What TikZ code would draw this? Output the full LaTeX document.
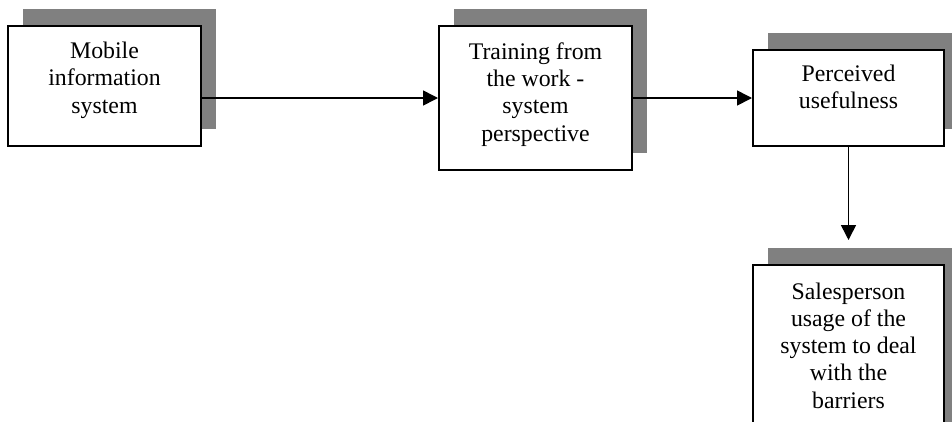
\documentclass[tikz,border=0pt]{standalone}
\usepackage{fontspec}
\setmainfont{Liberation Serif}
\usetikzlibrary{arrows.meta,calc}
\definecolor{shadowgray}{RGB}{128,128,128}
\tikzset{
  box/.style={draw=black, line width=2pt, fill=white, rectangle, inner sep=0pt, anchor=north west},
  boxshadow/.style={fill=shadowgray, draw=none},
  boxtext/.style={inner sep=0pt, align=center, anchor=north,
    font=\fontsize{23.8}{27.2}\selectfont},
  flow/.style={line width=1.6pt, -{Triangle[length=15pt,width=15pt]}}
}
\begin{document}
\begin{tikzpicture}[x=1pt,y=1pt]
\useasboundingbox (0,0) rectangle (952,-429);
\begin{scope}
  \clip (0,0) rectangle (952,-421);
  % drop shadows, offset up and to the right
  \fill[boxshadow] (23,-9) rectangle (216,-129);
  \fill[boxshadow] (454,-9) rectangle (647,-153);
  \fill[boxshadow] (768,-33) rectangle (959,-129);
  \fill[boxshadow] (768,-248) rectangle (959,-460);
  % boxes
  \node[box, minimum width=193pt, minimum height=120pt] (b1) at (7,-25) {};
  \node[box, minimum width=193pt, minimum height=144pt] (b2) at (438,-25) {};
  \node[box, minimum width=191pt, minimum height=96pt] (b3) at (752,-49) {};
  \node[box, minimum width=191pt, minimum height=196pt] (b4) at (752,-264) {};
\end{scope}
% labels
\node[boxtext] (t1) at ([yshift=-17pt]b1.north) {Mobile\\information\\system};
\node[boxtext] (t2) at ([yshift=-17.5pt]b2.north) {Training from\\the work -\\system\\perspective};
\node[boxtext] (t3) at ([yshift=-15.5pt]b3.north) {Perceived\\usefulness};
\node[boxtext] (t4) at ([yshift=-18.5pt]b4.north) {Salesperson\\usage of the\\system to deal\\with the\\barriers};
% connectors
\coordinate (b4in) at ([yshift=24pt]b4.north);
\draw[flow] (b1.east |- b2.west) -- (b2.west);
\draw[flow] (b2.east) -- (b3.west);
\draw[flow] (b3.south) -- (b4in);
\end{tikzpicture}
\end{document}
